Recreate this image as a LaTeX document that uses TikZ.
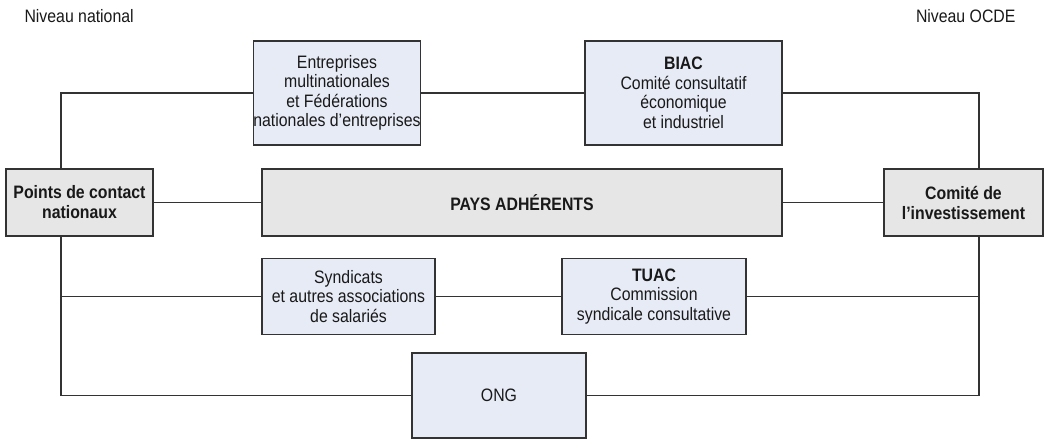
\documentclass[tikz,border=0pt]{standalone}
\usepackage{fontspec}
\setmainfont{Liberation Sans}[FakeStretch=0.88]
\definecolor{bluefill}{HTML}{E7EBF6}
\definecolor{grayfill}{HTML}{E6E6E6}
\definecolor{linec}{HTML}{333333}
\begin{document}
\begin{tikzpicture}[x=1pt,y=-1pt,
  every node/.style={font=\fontsize{18}{19.5}\selectfont, text=black!90},
  bbox/.style={draw=linec, line width=1.3pt, fill=bluefill, align=center, inner sep=0pt},
  gbox/.style={draw=linec, line width=1.3pt, fill=grayfill, align=center, inner sep=0pt, font=\fontsize{18}{20}\selectfont\bfseries},
  conn/.style={draw=linec, line width=1.3pt}]
\useasboundingbox (0,0) rectangle (1045,439);
\node[anchor=west] (nn) at (21,16) {Niveau national};
\node[anchor=east] (no) at (1019,16) {Niveau OCDE};
\node[gbox, minimum width=147, minimum height=67] (pcn) at (79.5,202.5) {Points de contact\\nationaux};
\node[gbox, minimum width=520, minimum height=67] (pays) at (522,202.5) {PAYS ADHÉRENTS};
\node[gbox, minimum width=159, minimum height=67] (ci) at (963.5,202.5) {Comité de\\l’investissement};
\node[bbox, minimum width=158, minimum height=104] (ent) at (337,93) {Entreprises\\multinationales\\et Fédérations\\nationales d’entreprises};
\node[bbox, minimum width=197, minimum height=104] (biac) at (683.5,93) {\textbf{BIAC}\\Comité consultatif\\économique\\et industriel};
\node[bbox, minimum width=173, minimum height=76] (synd) at (348.5,296.5) {Syndicats\\et autres associations\\de salariés};
\node[bbox, minimum width=184, minimum height=76] (tuac) at (654,296.5) {\textbf{TUAC}\\Commission\\syndicale consultative};
\node[bbox, minimum width=174, minimum height=85] (ong) at (499,395.5) {ONG};
\coordinate (L) at (61,0);
\coordinate (R) at (979,0);
\draw[conn] (ent.west) -| (pcn.north -| L);
\draw[conn] (pcn.south -| L) |- (ong.west);
\draw[conn] (synd.west) -- (synd.west -| L);
\draw[conn] (biac.east) -| (ci.north -| R);
\draw[conn] (ci.south -| R) |- (ong.east);
\draw[conn] (tuac.east) -- (tuac.east -| R);
\draw[conn] (pcn.east) -- (pays.west);
\draw[conn] (pays.east) -- (ci.west);
\draw[conn] (ent.east) -- (biac.west);
\draw[conn] (synd.east) -- (tuac.west);
\end{tikzpicture}
\end{document}
